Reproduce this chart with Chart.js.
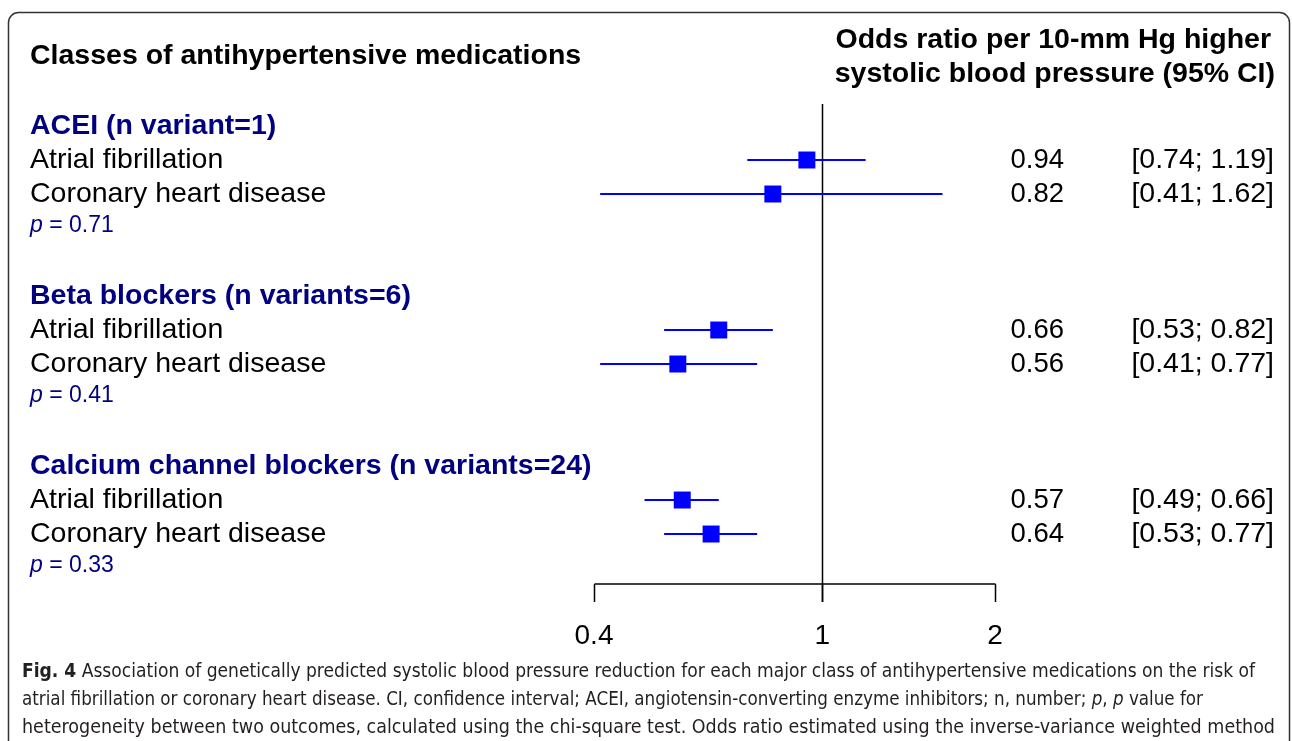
<!DOCTYPE html>
<html>
<head>
<meta charset="utf-8">
<script src="https://cdn.jsdelivr.net/npm/chart.js@4/dist/chart.umd.min.js"></script>
<style>
  html, body { margin: 0; padding: 0; background: #fff; }
  #wrap { width: 1292px; height: 741px; position: relative; }
</style>
</head>
<body>
<div id="wrap"><canvas id="c" width="1292" height="741"></canvas></div>
<script>
// data
const groups = ['ACEI (n variant=1)', 'Beta blockers (n variants=6)', 'Calcium channel blockers (n variants=24)'];
const outcomes = ['Atrial fibrillation', 'Coronary heart disease'];
const oddsRatio = [0.94, 0.82, 0.66, 0.56, 0.57, 0.64];
const ciLower = [0.74, 0.41, 0.53, 0.41, 0.49, 0.53];
const ciUpper = [1.19, 1.62, 0.82, 0.77, 0.66, 0.77];
const pHet = ['0.71', '0.41', '0.33'];
const xTicks = [0.4, 1, 2];

// row layout: header, outcome 1, outcome 2, p, blank
const groupRow = [0, 5, 10];
const pointRows = [1, 2, 6, 7, 11, 12];

const BLUE = '#0000ff';
const NAVY = '#000080';
const SANS = '"Liberation Sans", Arial, Helvetica, sans-serif';

const captionLines = [
  [['Fig. 4', true], [' Association of genetically predicted systolic blood pressure reduction for each major class of antihypertensive medications on the risk of', false]],
  [['atrial fibrillation or coronary heart disease. CI, confidence interval; ACEI, angiotensin-converting enzyme inhibitors; n, number; ', false], ['p', 'i'], [', ', false], ['p', 'i'], [' value for', false]],
  [['heterogeneity between two outcomes, calculated using the chi-square test. Odds ratio estimated using the inverse-variance weighted method', false]]
];
const captionWidths = [1233, 1181, 1253];

const ciDatasets = oddsRatio.map((v, i) => ({
  type: 'line',
  data: [{ x: ciLower[i], y: pointRows[i] }, { x: ciUpper[i], y: pointRows[i] }],
  borderColor: BLUE,
  borderWidth: 2,
  pointRadius: 0,
  order: 2
}));

const forestPlugin = {
  id: 'forest',
  beforeDraw(chart) {
    const ctx = chart.ctx;
    ctx.save();
    ctx.fillStyle = '#fff';
    ctx.fillRect(0, 0, chart.width, chart.height);
    // frame
    ctx.strokeStyle = '#333';
    ctx.lineWidth = 1.5;
    ctx.beginPath();
    ctx.roundRect(8.5, 12.5, 1281, 760, 10);
    ctx.stroke();
    ctx.restore();
  },
  beforeDatasetsDraw(chart) {
    const ctx = chart.ctx;
    const xs = chart.scales.x;
    const area = chart.chartArea;
    ctx.save();
    ctx.strokeStyle = '#000';
    ctx.lineWidth = 1.5;
    // reference line at 1
    const x1 = Math.round(xs.getPixelForValue(1)) + 0.5;
    ctx.beginPath();
    ctx.moveTo(x1, area.top);
    ctx.lineTo(x1, area.bottom + 18);
    ctx.stroke();
    // x axis
    const xa = Math.round(xs.getPixelForValue(xTicks[0])) + 0.5;
    const xb = Math.round(xs.getPixelForValue(xTicks[xTicks.length - 1])) + 0.5;
    ctx.beginPath();
    ctx.moveTo(xa, area.bottom);
    ctx.lineTo(xb, area.bottom);
    xTicks.forEach(t => {
      const px = Math.round(xs.getPixelForValue(t)) + 0.5;
      ctx.moveTo(px, area.bottom);
      ctx.lineTo(px, area.bottom + 18);
    });
    ctx.stroke();
    ctx.fillStyle = '#000';
    ctx.font = '28px ' + SANS;
    ctx.textAlign = 'center';
    ctx.textBaseline = 'middle';
    xTicks.forEach(t => ctx.fillText(String(t), xs.getPixelForValue(t), area.bottom + 52));
    ctx.restore();
  },
  afterDraw(chart) {
    const ctx = chart.ctx;
    const ys = chart.scales.y;
    ctx.save();
    ctx.textBaseline = 'middle';
    // column titles
    ctx.fillStyle = '#000';
    ctx.font = 'bold 28.5px ' + SANS;
    ctx.textAlign = 'left';
    ctx.fillText('Classes of antihypertensive medications', 30, 56);
    ctx.textAlign = 'right';
    ctx.fillText('Odds ratio per 10-mm Hg higher', 1271, 40);
    ctx.fillText('systolic blood pressure (95% CI)', 1275, 74);

    groups.forEach((g, gi) => {
      const r = groupRow[gi];
      ctx.textAlign = 'left';
      ctx.fillStyle = NAVY;
      ctx.font = 'bold 28.5px ' + SANS;
      ctx.fillText(g, 30, ys.getPixelForValue(r));
      ctx.fillStyle = '#000';
      ctx.font = '28.5px ' + SANS;
      outcomes.forEach((o, oi) => ctx.fillText(o, 30, ys.getPixelForValue(r + 1 + oi)));
      // p value
      const py = ys.getPixelForValue(r + 3) - 2;
      ctx.fillStyle = NAVY;
      ctx.font = 'italic 23px ' + SANS;
      ctx.fillText('p', 30, py);
      const pw = ctx.measureText('p').width;
      ctx.font = '23px ' + SANS;
      ctx.fillText(' = ' + pHet[gi], 30 + pw, py);
    });

    // estimates and intervals
    ctx.fillStyle = '#000';
    ctx.textAlign = 'right';
    oddsRatio.forEach((v, i) => {
      const y = ys.getPixelForValue(pointRows[i]);
      ctx.font = '27.5px ' + SANS;
      ctx.fillText(v.toFixed(2), 1064, y);
      ctx.font = '28.5px ' + SANS;
      ctx.fillText('[' + ciLower[i].toFixed(2) + '; ' + ciUpper[i].toFixed(2) + ']', 1274, y);
    });

    // caption, fitted to the line widths of the figure
    ctx.textAlign = 'left';
    ctx.fillStyle = '#231f20';
    const capFont = (w) => (w === true ? 'bold ' : w === 'i' ? 'italic ' : '') + '19px "Liberation Sans Narrow", "DejaVu Sans Condensed", ' + SANS;
    captionLines.forEach((parts, li) => {
      let total = 0;
      parts.forEach(p => { ctx.font = capFont(p[1]); total += ctx.measureText(p[0]).width; });
      const k = captionWidths[li] / total;
      ctx.save();
      ctx.translate(22, 672 + li * 28);
      ctx.scale(k, 1);
      let x = 0;
      parts.forEach(p => {
        ctx.font = capFont(p[1]);
        ctx.fillText(p[0], x, 0);
        x += ctx.measureText(p[0]).width;
      });
      ctx.restore();
    });
    ctx.restore();
  }
};

new Chart(document.getElementById('c'), {
  type: 'scatter',
  data: {
    datasets: [
      {
        data: oddsRatio.map((v, i) => ({ x: v, y: pointRows[i] })),
        pointStyle: 'rect',
        pointRadius: 12,
        pointHoverRadius: 12,
        backgroundColor: BLUE,
        borderColor: BLUE,
        borderWidth: 0,
        order: 1
      },
      ...ciDatasets
    ]
  },
  options: {
    responsive: false,
    animation: false,
    devicePixelRatio: 1,
    layout: { padding: { left: 594, right: 297, top: 104, bottom: 157 } },
    plugins: { legend: { display: false }, tooltip: { enabled: false } },
    scales: {
      x: { type: 'logarithmic', min: 0.4, max: 2, display: false },
      y: { type: 'linear', min: -0.647, max: 13.47, reverse: true, display: false }
    }
  },
  plugins: [forestPlugin]
});
</script>
</body>
</html>
